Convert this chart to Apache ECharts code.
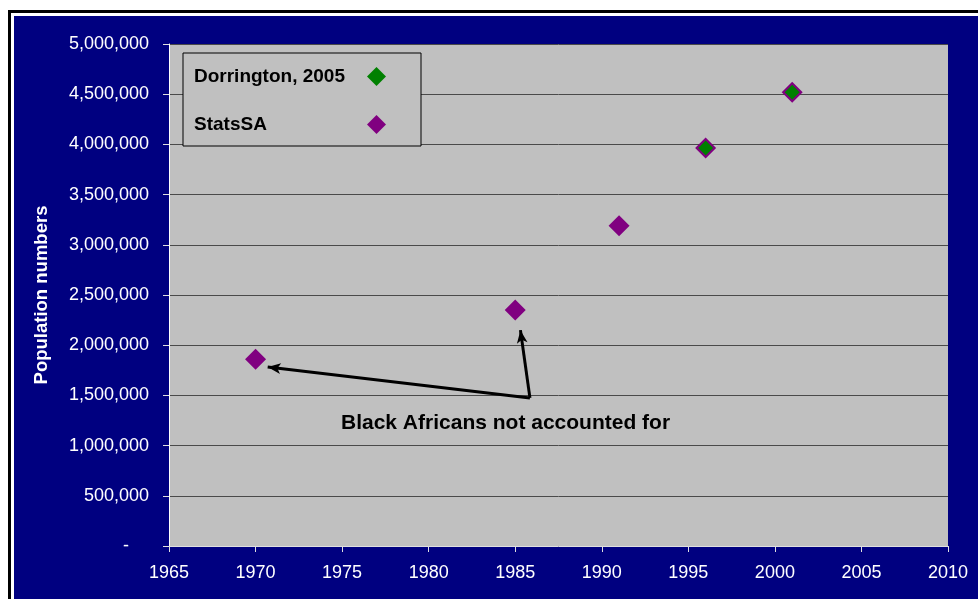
<!DOCTYPE html>
<html>
<head>
<meta charset="utf-8">
<script src="https://cdn.jsdelivr.net/npm/echarts@6/dist/echarts.min.js"></script>
<style>
    html, body { margin: 0; padding: 0; background: #ffffff; overflow: hidden; }
    .frame {
        position: absolute; left: 8px; top: 10px; width: 1000px; height: 700px;
        border: 3px solid #000; padding: 3px; background: #fff;
    }
    .frame-inner { width: 100%; height: 100%; background: #000080; }
    #chart { position: absolute; left: 0; top: 0; width: 978px; height: 599px; }
</style>
</head>
<body>
<div class="frame"><div class="frame-inner"></div></div>
<div id="chart"></div>
<script>
// Values
const statsYears = [1970, 1985, 1991, 1996, 2001]
const statsValues = [1860000, 2350000, 3190000, 3965000, 4520000]
const dorringtonYears = [1996, 2001]
const dorringtonValues = [3965000, 4520000]
const seriesNames = ['Dorrington, 2005', 'StatsSA']
const annotationText = 'Black Africans not accounted for'
// arrow tail and heads in data units
const arrowTail = [1985.85, 1475000]
const arrowHeads = [[1970.7, 1782000], [1985.3, 2150000]]

const myChart = echarts.init(document.getElementById('chart'))
const font = 'Arial, "Liberation Sans", sans-serif'

const option = {
    backgroundColor: 'transparent',
    animation: false,
    textStyle: { fontFamily: font },
    grid: {
        left: 169,
        top: 44,
        right: 30,
        bottom: 53,
        show: true,
        backgroundColor: '#c0c0c0',
        borderWidth: 0
    },
    legend: {
        data: seriesNames,
        orient: 'vertical',
        left: 183,
        top: 53,
        align: 'right',
        backgroundColor: '#c0c0c0',
        borderColor: '#000',
        borderWidth: 1,
        borderRadius: 0,
        padding: [14, 35, 12, 11],
        itemGap: 29,
        itemWidth: 19,
        itemHeight: 19,
        selectedMode: false,
        formatter: name => '{n|' + name + '}',
        textStyle: {
            color: '#000',
            fontSize: 19,
            fontWeight: 'bold',
            fontFamily: font,
            rich: {
                n: {
                    width: 168,
                    align: 'left',
                    color: '#000',
                    fontSize: 19,
                    fontWeight: 'bold',
                    fontFamily: font
                }
            }
        }
    },
    xAxis: {
        type: 'value',
        min: 1965,
        max: 2010,
        interval: 5,
        axisLine: { show: true, lineStyle: { color: '#e0e0e0', width: 1 } },
        axisTick: { show: true, length: 6, lineStyle: { color: '#e0e0e0' } },
        axisLabel: {
            color: '#fff',
            fontSize: 18,
            margin: 18,
            fontFamily: font,
            formatter: v => String(v)
        },
        splitLine: { show: false }
    },
    yAxis: {
        type: 'value',
        min: 0,
        max: 5000000,
        interval: 500000,
        name: 'Population numbers',
        nameLocation: 'middle',
        nameGap: 118,
        nameTextStyle: { color: '#fff', fontSize: 18.5, fontWeight: 'bold', fontFamily: font },
        axisLine: { show: true, lineStyle: { color: '#fff', width: 1 } },
        axisTick: { show: true, length: 6, lineStyle: { color: '#e0e0e0' } },
        axisLabel: {
            color: '#fff',
            fontSize: 18,
            margin: 20,
            fontFamily: font,
            formatter: function (v) {
                if (v === 0) return '{dash|-}'
                return v.toLocaleString('en-US')
            },
            rich: {
                dash: { color: '#fff', fontSize: 18, padding: [0, 20, 0, 0] }
            }
        },
        splitLine: { show: true, lineStyle: { color: '#4a4a4a', width: 1 } }
    },
    series: [
        {
            name: 'StatsSA',
            type: 'scatter',
            symbol: 'diamond',
            symbolSize: 21,
            itemStyle: { color: '#800080', opacity: 1 },
            data: statsYears.map((y, i) => [y, statsValues[i]]),
            z: 3,
            markLine: {
                silent: true,
                symbol: ['none', 'arrow'],
                symbolSize: [8, 13],
                label: { show: false },
                lineStyle: { color: '#000', width: 3, type: 'solid' },
                data: arrowHeads.map(h => [{ coord: arrowTail }, { coord: h }])
            }
        },
        {
            name: 'Dorrington, 2005',
            type: 'scatter',
            symbol: 'diamond',
            symbolSize: 15,
            itemStyle: { color: '#008000', opacity: 1 },
            data: dorringtonYears.map((y, i) => [y, dorringtonValues[i]]),
            z: 4
        }
    ],
    graphic: [
        {
            type: 'text',
            left: 341,
            top: 413,
            style: {
                text: annotationText,
                fill: '#000',
                font: 'bold 21px ' + font
            }
        }
    ]
}

myChart.setOption(option)
</script>
</body>
</html>
